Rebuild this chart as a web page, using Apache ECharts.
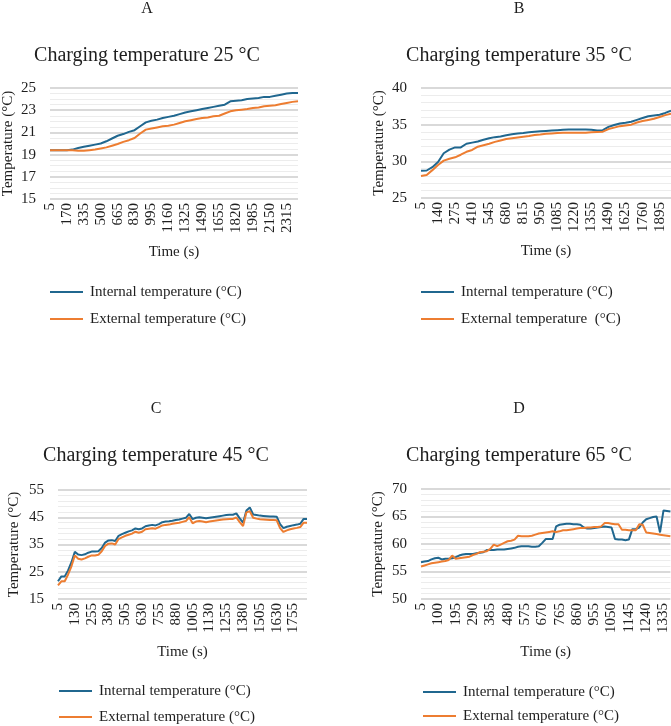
<!DOCTYPE html>
<html>
<head>
<meta charset="utf-8">
<script src="https://cdn.jsdelivr.net/npm/echarts@6/dist/echarts.min.js"></script>
<style>
  html, body { margin: 0; padding: 0; background: #fff; }
  #chart { width: 671px; height: 726px; }
</style>
</head>
<body>
<div id="chart"></div>
<script>
// logger wrote one sample per fixed step, so the time axis is just start + i*step
function sampleTimes(start, step, count) {
  var out = [];
  for (var i = 0; i < count; i++) out.push(String(start + i * step));
  return out;
}

// A - charging at 25 °C
var timeA = sampleTimes(5, 55, 45);
var internalA = [19.4, 19.4, 19.4, 19.4, 19.45, 19.6, 19.7, 19.8, 19.9, 20.0,
  20.2, 20.45, 20.7, 20.85, 21.05, 21.2, 21.55, 21.9, 22.05, 22.15,
  22.3, 22.4, 22.5, 22.65, 22.8, 22.9, 23.0, 23.1, 23.2, 23.3,
  23.4, 23.5, 23.8, 23.85, 23.9, 24.0, 24.05, 24.1, 24.2, 24.2,
  24.3, 24.4, 24.5, 24.55, 24.55];
var externalA = [19.4, 19.4, 19.4, 19.4, 19.4, 19.35, 19.35, 19.4, 19.45, 19.55,
  19.65, 19.8, 19.95, 20.15, 20.3, 20.5, 20.9, 21.25, 21.35, 21.45,
  21.55, 21.6, 21.7, 21.85, 22.0, 22.1, 22.2, 22.3, 22.35, 22.45,
  22.5, 22.7, 22.9, 23.0, 23.05, 23.1, 23.2, 23.25, 23.35, 23.4,
  23.45, 23.55, 23.65, 23.75, 23.8];

// B - charging at 35 °C
var timeB = sampleTimes(5, 45, 45);
var internalB = [28.7, 28.75, 29.2, 29.9, 31.1, 31.6, 31.9, 31.9, 32.4, 32.55,
  32.7, 32.95, 33.15, 33.3, 33.4, 33.55, 33.7, 33.8, 33.85, 33.95,
  34.05, 34.1, 34.15, 34.2, 34.25, 34.3, 34.35, 34.35, 34.35, 34.35,
  34.3, 34.2, 34.25, 34.7, 34.95, 35.15, 35.25, 35.4, 35.65, 35.9,
  36.15, 36.25, 36.35, 36.6, 36.9];
var externalB = [28.0, 28.15, 28.8, 29.5, 30.1, 30.35, 30.55, 30.9, 31.3, 31.55,
  32.0, 32.2, 32.4, 32.65, 32.85, 33.05, 33.15, 33.25, 33.35, 33.45,
  33.6, 33.65, 33.75, 33.8, 33.85, 33.9, 33.9, 33.9, 33.9, 33.9,
  33.95, 34.0, 34.05, 34.4, 34.6, 34.8, 34.9, 35.0, 35.3, 35.5,
  35.65, 35.8, 36.05, 36.3, 36.5];

// C - charging at 45 °C
var timeC = sampleTimes(5, 25, 75);
var internalC = [21.5, 23.3, 23.3, 25.5, 28.5, 32.3, 31.3, 31.1, 31.4, 32.0,
  32.4, 32.4, 32.5, 33.7, 35.7, 36.5, 36.6, 36.3, 38.2, 38.8,
  39.3, 39.8, 40.2, 40.9, 40.6, 40.9, 41.7, 42.0, 42.2, 42.0,
  42.5, 43.2, 43.4, 43.5, 43.7, 44.0, 44.2, 44.5, 44.8, 46.2,
  44.3, 44.8, 45.0, 44.8, 44.6, 44.8, 45.0, 45.2, 45.4, 45.6,
  45.8, 45.9, 45.9, 46.4, 44.6, 43.0, 47.5, 48.6, 46.0, 45.8,
  45.6, 45.5, 45.4, 45.3, 45.3, 45.2, 42.5, 41.0, 41.5, 41.8,
  42.1, 42.3, 42.6, 44.4, 44.4];
var externalC = [20.0, 21.5, 21.5, 24.0, 27.0, 31.0, 29.8, 29.5, 29.9, 30.5,
  31.0, 31.0, 31.2, 32.5, 34.5, 35.3, 35.4, 35.0, 37.0, 37.6,
  38.2, 38.6, 39.0, 39.7, 39.3, 39.7, 40.6, 40.8, 41.0, 40.8,
  41.4, 42.0, 42.2, 42.3, 42.6, 42.8, 43.0, 43.3, 43.6, 45.0,
  42.8, 43.4, 43.6, 43.4, 43.2, 43.4, 43.6, 43.8, 44.0, 44.2,
  44.3, 44.4, 44.4, 44.9, 43.2, 41.8, 46.8, 47.2, 44.8, 44.5,
  44.3, 44.2, 44.1, 44.0, 44.0, 43.9, 41.0, 39.6, 40.2, 40.6,
  40.9, 41.1, 41.4, 43.0, 43.0];

// D - charging at 65 °C
var timeD = sampleTimes(5, 19, 73);
var internalD = [56.7, 56.8, 56.9, 57.2, 57.4, 57.5, 57.2, 57.3, 57.3, 57.4,
  57.6, 57.9, 58.1, 58.2, 58.2, 58.2, 58.3, 58.4, 58.5, 58.9,
  58.9, 58.9, 59.0, 59.0, 59.0, 59.1, 59.2, 59.3, 59.5, 59.6,
  59.6, 59.6, 59.5, 59.5, 59.6, 60.2, 60.9, 60.9, 60.9, 63.2,
  63.5, 63.6, 63.7, 63.7, 63.6, 63.6, 63.5, 63.0, 62.8, 62.8,
  62.9, 63.0, 63.1, 63.2, 63.1, 63.0, 60.9, 60.8, 60.8, 60.7,
  60.8, 62.7, 62.7, 63.0, 63.9, 64.5, 64.7, 64.9, 65.0, 62.1,
  66.1, 66.0, 65.9];
var externalD = [55.9, 56.1, 56.3, 56.5, 56.6, 56.7, 56.8, 56.9, 57.1, 57.9,
  57.3, 57.4, 57.5, 57.6, 57.7, 58.0, 58.2, 58.5, 58.6, 58.7,
  59.1, 59.9, 59.6, 59.9, 60.2, 60.5, 60.6, 60.8, 61.5, 61.4,
  61.4, 61.4, 61.5, 61.7, 61.9, 62.0, 62.1, 62.2, 62.3, 62.2,
  62.3, 62.5, 62.5, 62.6, 62.7, 62.8, 62.9, 62.9, 63.0, 63.0,
  63.1, 63.1, 63.2, 63.8, 63.8, 63.7, 63.6, 63.6, 62.6, 62.6,
  62.5, 62.5, 62.5, 63.6, 63.5, 62.1, 62.0, 61.9, 61.8, 61.7,
  61.6, 61.5, 61.4];

var FONT = "'Liberation Serif', 'Times New Roman', serif";
var INK = '#1e1e1e';
var BLUE = '#20678f';
var ORANGE = '#ed7d31';
var INTERNAL = 'Internal temperature (°C)';

var panels = [
  { letter: 'A', title: 'Charging temperature 25 °C', cx: 147, top: 0,
    time: timeA, internal: internalA, external: externalA, externalName: 'External temperature (°C)',
    min: 15, max: 25, step: 2, minor: 4, every: 2,
    grid: { left: 48, top: 88, width: 250, height: 111 },
    legendLeft: 50, legendTop: 284, legendGap: 11, yNameGap: 34 },
  { letter: 'B', title: 'Charging temperature 35 °C', cx: 519, top: 0,
    time: timeB, internal: internalB, external: externalB, externalName: 'External temperature  (°C)',
    min: 25, max: 40, step: 5, minor: 5, every: 2,
    grid: { left: 421, top: 88, width: 250, height: 110 },
    legendLeft: 421, legendTop: 284, legendGap: 11, yNameGap: 34 },
  { letter: 'C', title: 'Charging temperature 45 °C', cx: 156, top: 400,
    time: timeC, internal: internalC, external: externalC, externalName: 'External temperature (°C)',
    min: 15, max: 55, step: 10, minor: 5, every: 4,
    grid: { left: 58, top: 490, width: 249, height: 109 },
    legendLeft: 59, legendTop: 683, legendGap: 10, yNameGap: 36 },
  { letter: 'D', title: 'Charging temperature 65 °C', cx: 519, top: 400,
    time: timeD, internal: internalD, external: externalD, externalName: 'External temperature (°C)',
    min: 50, max: 70, step: 5, minor: 5, every: 4,
    grid: { left: 421, top: 489, width: 250, height: 110 },
    legendLeft: 423, legendTop: 684, legendGap: 8, yNameGap: 35 }
];

var titles = [], grids = [], xAxes = [], yAxes = [], series = [], legends = [];

panels.forEach(function (p, i) {
  titles.push({
    text: p.letter, left: p.cx, top: p.top + 1, textAlign: 'center', padding: 0,
    textStyle: { fontFamily: FONT, fontSize: 16, fontWeight: 'normal', color: INK }
  });
  titles.push({
    text: p.title, left: p.cx, top: p.top + 46, textAlign: 'center', padding: 0,
    textStyle: { fontFamily: FONT, fontSize: 20, fontWeight: 'normal', color: INK }
  });
  grids.push(p.grid);
  xAxes.push({
    gridIndex: i, type: 'category', data: p.time, boundaryGap: false,
    axisLine: { show: false }, axisTick: { show: false },
    axisLabel: { interval: p.every, rotate: 90, margin: 4, fontFamily: FONT, fontSize: 15, color: INK },
    name: 'Time (s)', nameLocation: 'middle', nameGap: 46,
    nameTextStyle: { fontFamily: FONT, fontSize: 15, color: INK }
  });
  yAxes.push({
    gridIndex: i, type: 'value', min: p.min, max: p.max, interval: p.step,
    axisLine: { show: false }, axisTick: { show: false },
    axisLabel: { margin: 14, fontFamily: FONT, fontSize: 15, color: INK },
    splitLine: { lineStyle: { color: '#d9d9d9', width: 2 } },
    minorTick: { show: false, splitNumber: p.minor },
    minorSplitLine: { show: true, lineStyle: { color: '#ececec', width: 1 } },
    name: 'Temperature (°C)', nameLocation: 'middle', nameGap: p.yNameGap,
    nameTextStyle: { fontFamily: FONT, fontSize: 15, color: INK }
  });
  series.push({
    name: INTERNAL, type: 'line', xAxisIndex: i, yAxisIndex: i, data: p.internal,
    symbol: 'none', color: BLUE, lineStyle: { width: 2, color: BLUE }
  });
  series.push({
    name: p.externalName, type: 'line', xAxisIndex: i, yAxisIndex: i, data: p.external,
    symbol: 'none', color: ORANGE, lineStyle: { width: 2, color: ORANGE }
  });
  legends.push({
    data: [INTERNAL, p.externalName], orient: 'vertical',
    left: p.legendLeft, top: p.legendTop, padding: 0, itemGap: p.legendGap,
    icon: 'rect', itemWidth: 33, itemHeight: 2,
    textStyle: { fontFamily: FONT, fontSize: 15, color: INK, lineHeight: 16, padding: [0, 0, 0, 2] }
  });
});

var chart = echarts.init(document.getElementById('chart'));
chart.setOption({
  animation: false,
  backgroundColor: '#fff',
  title: titles,
  grid: grids,
  xAxis: xAxes,
  yAxis: yAxes,
  legend: legends,
  series: series
});
</script>
</body>
</html>
